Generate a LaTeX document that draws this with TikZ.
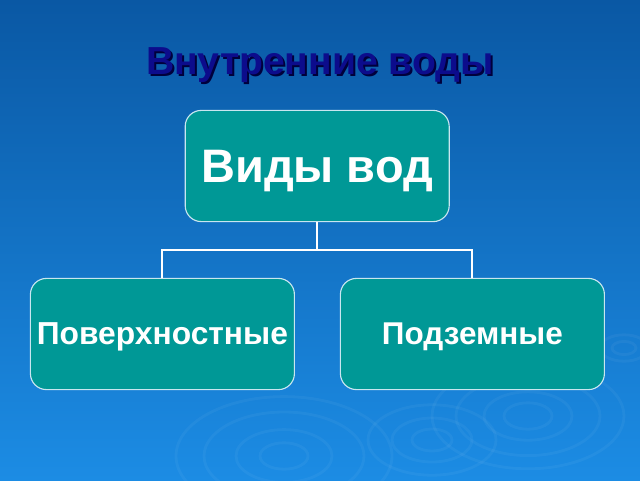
\documentclass[tikz,border=0pt]{standalone}
\usepackage{fontspec}
\setmainfont{Liberation Sans}
\usepackage{tikz}
\usetikzlibrary{positioning,shapes}
\definecolor{bgTop}{RGB}{10,88,164}
\definecolor{bgBot}{RGB}{28,140,228}
\definecolor{boxFill}{RGB}{0,152,150}
\definecolor{boxLine}{RGB}{200,230,240}
\definecolor{titleInk}{RGB}{12,12,140}
\newcommand{\mRipple}[3]{\foreach \r in {#3}{\draw[white,opacity=0.045,line width=2pt] (#1,#2) ellipse ({\r} and {\r*0.55});}}

\begin{document}
\begin{tikzpicture}[
    kindbox/.style={draw=boxLine,line width=0.8pt,fill=boxFill,rounded corners=0.4cm,
      minimum width=6.6cm,minimum height=2.78cm,text=white,text depth=0pt,font=\bfseries},
    link/.style={draw=white,line width=1.3pt}]
    \shade[top color=bgTop,bottom color=bgBot] (0,0) rectangle (16,12);
    \useasboundingbox (0,0) rectangle (16,12);
    % ripples on the water
    \mRipple{7.1}{0.6}{0.6,1.2,2.0,2.7}
    \mRipple{13.2}{1.6}{0.6,1.1,1.8,2.4}
    \mRipple{10.8}{1.0}{0.5,1.0,1.6}
    \mRipple{15.6}{3.3}{0.3,0.6}
    % title
    \node[text={rgb,255:red,0;green,0;blue,60},font=\bfseries\fontsize{27.8}{32}\selectfont] at (8.05,10.33) {Внутренние воды};
    \node (title) [text=titleInk,font=\bfseries\fontsize{27.8}{32}\selectfont] at (8,10.38) {Внутренние воды};
    % boxes
    \node (kinds) [kindbox,font=\bfseries\fontsize{33.4}{38}\selectfont] at (7.93,7.85) {Виды вод};
    \node (surface) [kindbox,font=\bfseries\fontsize{22.6}{26}\selectfont] at (4.06,3.65) {Поверхностные};
    \node (under) [kindbox,font=\bfseries\fontsize{22.4}{26}\selectfont] at (11.81,3.65) {Подземные};
    % tree links
    \coordinate (fork) at (7.93,5.75);
    \draw[link] (kinds.south) -- (fork);
    \draw[link] (surface.north) |- (fork) -| (under.north);
\end{tikzpicture}
\end{document}
